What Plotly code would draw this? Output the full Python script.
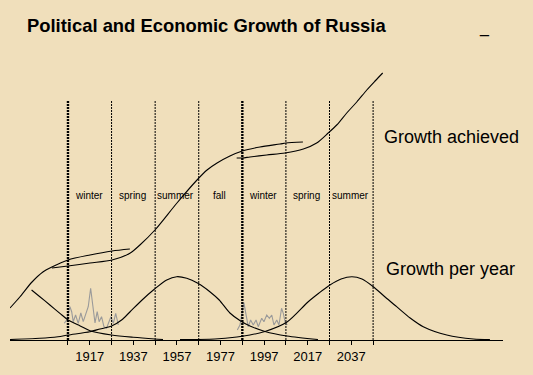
import plotly.graph_objects as go

# ---------------- data (years, values) ----------------
ach1_years = [1880.4, 1884.9, 1890.5, 1895.5, 1899.6, 1907.0, 1917.1, 1927.2, 1935.4]
ach1_vals = [32, 43, 58, 68, 73, 80, 85, 89, 91]

ach2_years = [1899.6, 1907.0, 1917.1, 1927.2, 1935.4, 1940.0, 1946.9, 1957.0, 1966.2,
              1970.8, 1975.4, 1981.3, 1987.0, 1995.1, 2004.3, 2007.0, 2014.8]
ach2_vals = [72, 74, 77, 80, 86.7, 95, 110, 137, 160, 170, 177, 184, 189, 193, 196, 197, 198]

ach3_years = [1984.4, 1987.0, 1990.5, 1998.2, 2006.6, 2015.0, 2021.1, 2026.4, 2030.3,
              2034.9, 2039.5, 2044.1, 2047.9, 2051.4]
ach3_vals = [182, 182, 183, 185, 187, 191, 197, 207, 215, 227, 238, 250, 259, 267]

tail_years = [1890.3, 1894.1, 1898.7, 1903.3, 1907.1, 1912.6, 1917.1, 1927.0, 1936.9, 1946.9, 1950.6]
tail_vals = [50, 43.3, 35, 26.7, 20, 14, 9.3, 5, 2.7, 1, 0.5]

hump1_years = [1880.4, 1894.1, 1902.4, 1907.0, 1917.1, 1921.7, 1927.0, 1931.6, 1935.4, 1941.0,
               1946.6, 1952.3, 1956.9, 1961.5, 1966.6, 1972.1, 1976.4, 1981.3, 1986.2,
               1990.5, 1997.4, 2007.5, 2021.7]
hump1_vals = [0.5, 1.7, 3.3, 5, 8.3, 11, 14, 20, 28, 40,
              50.7, 60, 63.3, 61.7, 56.7, 48.3, 40, 27, 19,
              14, 8.5, 4, 0.5]

hump2_years = [1958.4, 1974.4, 1984.5, 1990.5, 1997.4, 2007.5, 2017.1, 2022.2, 2027.2, 2032.3,
               2037.3, 2041.9, 2047.1, 2052.5, 2057.8, 2064.0, 2070.0, 2080.8, 2093.0, 2100.6]
hump2_vals = [0.5, 1, 3, 5, 8.5, 18, 38, 47, 55, 61,
              63.3, 61, 53.3, 43, 33.3, 22, 13.3, 5, 1, 0.5]

noise1_years = [1905.3, 1906.4, 1907.9, 1908.7, 1909.4, 1910.5, 1911.7, 1912.9, 1914.0, 1915.1,
                1916.3, 1917.4, 1918.3, 1919.4, 1920.4, 1921.3, 1922.4, 1923.5, 1924.7, 1925.5,
                1926.7, 1927.8, 1928.9, 1930.1]
noise1_vals = [16.7, 20, 33.3, 28.3, 18.3, 25, 16.7, 27, 18.3, 26.7,
               33.3, 51.7, 33.3, 17, 28.3, 18.3, 23.3, 13.3, 11.7, 16.7,
               23.3, 16.7, 26.7, 15]

noise2_years = [1984.7, 1985.9, 1987.7, 1988.7, 1989.7, 1990.8, 1992.0, 1993.3, 1994.3, 1995.9,
                1996.9, 1998.2, 1999.4, 2000.5, 2001.5, 2002.8, 2003.8, 2005.0, 2005.8, 2006.6,
                2007.6]
noise2_vals = [10, 15, 37.3, 23.3, 13.3, 20, 15, 20, 13.3, 21.7,
               18.3, 25, 21.7, 25, 15, 20, 15, 31.7, 26.7, 18.3,
               15]

season_bounds = [1907, 1927, 1947, 1967, 1987, 2007, 2027, 2047]
season_names = ["winter", "spring", "summer", "fall", "winter", "spring", "summer"]

tick_years = list(range(1907, 2048, 10))
labelled_years = [1917, 1937, 1957, 1977, 1997, 2017, 2037]

title_text = "Political and Economic Growth of Russia"
label_achieved = "Growth achieved"
label_per_year = "Growth per year"

# ---------------- figure ----------------
FONT = "Liberation Sans, Arial, sans-serif"
BG = "#F0DFBB"

fig = go.Figure()

def line(xs, ys, color="black", width=1.1):
    fig.add_trace(go.Scatter(x=xs, y=ys, mode="lines",
                             line=dict(color=color, width=width, shape="spline", smoothing=0.8),
                             hoverinfo="skip", showlegend=False))

def jag(xs, ys):
    fig.add_trace(go.Scatter(x=xs, y=ys, mode="lines",
                             line=dict(color="#9a9a9a", width=1.1),
                             hoverinfo="skip", showlegend=False))

jag(noise1_years, noise1_vals)
jag(noise2_years, noise2_vals)
line(ach1_years, ach1_vals)
line(ach2_years, ach2_vals)
line(ach3_years, ach3_vals)
line(tail_years, tail_vals)
line(hump1_years, hump1_vals)
line(hump2_years, hump2_vals)

shapes = []
for i, yr in enumerate(season_bounds):
    thick = (i % 4 == 0)
    shapes.append(dict(type="line", xref="x", yref="y", x0=yr, x1=yr, y0=0, y1=240,
                       line=dict(color="black", width=2.4 if thick else 1,
                                 dash="2px,1px")))

annotations = []
for i, name in enumerate(season_names):
    mid = (season_bounds[i] + season_bounds[i + 1]) / 2
    annotations.append(dict(x=mid, y=145, xref="x", yref="y", text=name, showarrow=False,
                            xanchor="center", yanchor="middle", xshift=-1,
                            font=dict(family=FONT, size=10, color="black")))

annotations.append(dict(x=2051.2, y=203, xref="x", yref="y", text=label_achieved,
                        showarrow=False, xanchor="left", yanchor="middle",
                        font=dict(family=FONT, size=18, color="black")))
annotations.append(dict(x=2052.2, y=71.5, xref="x", yref="y", text=label_per_year,
                        showarrow=False, xanchor="left", yanchor="middle",
                        font=dict(family=FONT, size=18, color="black")))
annotations.append(dict(x=(484 - 10) / 493, y=(340 - 28) / 280, xref="paper", yref="paper",
                        text="_", showarrow=False, xanchor="center", yanchor="middle",
                        font=dict(family=FONT, size=16, color="black")))

fig.update_layout(
    width=533, height=375,
    paper_bgcolor=BG, plot_bgcolor=BG,
    margin=dict(l=10, r=30, t=60, b=35),
    title=dict(text="<b>" + title_text + "</b>", x=27 / 533, xanchor="left",
               xref="container", y=(375 - 26) / 375, yanchor="middle", yref="container",
               font=dict(family=FONT, size=18.4, color="black")),
    shapes=shapes,
    annotations=annotations,
    showlegend=False,
)
fig.update_xaxes(range=[1880.4, 2106.6], showgrid=False, zeroline=False,
                 showline=True, linecolor="black", linewidth=1,
                 tickmode="array", tickvals=tick_years,
                 ticktext=[str(y) if y in labelled_years else "" for y in tick_years],
                 ticks="outside", ticklen=4, tickcolor="black", tickwidth=1,
                 tickfont=dict(family=FONT, size=13, color="black"))
fig.update_yaxes(range=[0, 280], showgrid=False, zeroline=False, showline=False,
                 showticklabels=False, ticks="")

page_fix = ("document.body.style.margin='0';"
            "document.body.style.overflow='hidden';"
            "document.body.style.background='" + BG + "';")
fig.write_html("out.html", post_script=page_fix, config={"displayModeBar": False})
